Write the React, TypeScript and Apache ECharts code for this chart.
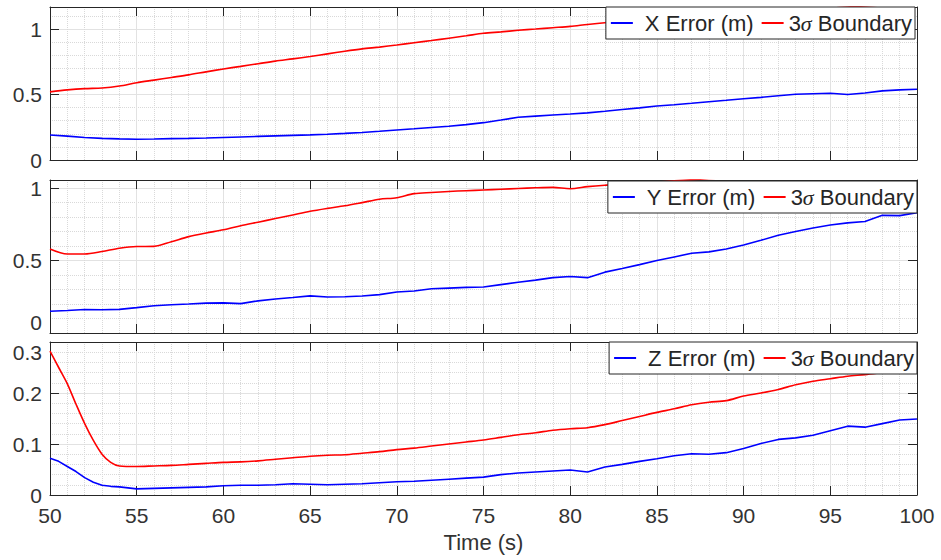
import React, { useEffect, useRef } from 'react';
import * as echarts from 'echarts';

// Time stamps (s) for X and Y panels
const time = [
  50, 51, 52, 53, 54, 55, 56, 57, 58, 59,
  60, 61, 62, 63, 64, 65, 66, 67, 68, 69,
  70, 71, 72, 73, 74, 75, 76, 77, 78, 79,
  80, 81, 82, 83, 84, 85, 86, 87, 88, 89,
  90, 91, 92, 93, 94, 95, 96, 97, 98, 99,
  100,
];
// Time stamps (s) for Z panel (finer at the start)
const timeZ = [
  50, 50.5, 51, 51.5, 52, 52.5, 53, 53.5, 54,
  55, 56, 57, 58, 59,
  60, 61, 62, 63, 64, 65, 66, 67, 68, 69,
  70, 71, 72, 73, 74, 75, 76, 77, 78, 79,
  80, 81, 82, 83, 84, 85, 86, 87, 88, 89,
  90, 91, 92, 93, 94, 95, 96, 97, 98, 99,
  100,
];

const xError = [
  0.191, 0.182, 0.172, 0.165, 0.161, 0.158, 0.16, 0.163, 0.165, 0.168,
  0.172, 0.176, 0.18, 0.184, 0.188, 0.192, 0.197, 0.203, 0.21, 0.219,
  0.229, 0.238, 0.248, 0.258, 0.27, 0.285, 0.305, 0.326, 0.335, 0.344,
  0.351, 0.36, 0.372, 0.385, 0.398, 0.412, 0.422, 0.433, 0.445, 0.456,
  0.468, 0.478, 0.49, 0.502, 0.506, 0.509, 0.5, 0.512, 0.528, 0.535,
  0.54,
];
const xSigma = [
  0.52, 0.535, 0.545, 0.55, 0.565, 0.59, 0.61, 0.63, 0.65, 0.673,
  0.695, 0.715, 0.735, 0.755, 0.772, 0.79, 0.81, 0.83, 0.848, 0.862,
  0.878, 0.895, 0.912, 0.93, 0.948, 0.967, 0.978, 0.99, 1.0, 1.01,
  1.02, 1.035, 1.048, 1.058, 1.066, 1.074, 1.083, 1.092, 1.1, 1.108,
  1.116, 1.124, 1.132, 1.14, 1.148, 1.158, 1.168, 1.176, 1.184, 1.19,
  1.196,
];
const yError = [
  0.15, 0.155, 0.162, 0.16, 0.163, 0.175, 0.188, 0.195, 0.2, 0.206,
  0.208, 0.203, 0.222, 0.235, 0.245, 0.256, 0.248, 0.25, 0.255, 0.265,
  0.283, 0.29, 0.305, 0.31, 0.315, 0.318, 0.334, 0.35, 0.365, 0.382,
  0.39, 0.382, 0.42, 0.445, 0.472, 0.5, 0.525, 0.55, 0.56, 0.58,
  0.608, 0.64, 0.675, 0.7, 0.725, 0.745, 0.76, 0.77, 0.812, 0.81,
  0.83,
];
const ySigma = [
  0.58, 0.545, 0.545, 0.562, 0.585, 0.597, 0.598, 0.63, 0.665, 0.69,
  0.712, 0.74, 0.765, 0.79, 0.815, 0.84, 0.86, 0.878, 0.9, 0.923,
  0.934, 0.962, 0.97, 0.977, 0.982, 0.987, 0.992, 0.997, 1.002, 1.005,
  0.996, 1.01, 1.02, 1.027, 1.035, 1.042, 1.05, 1.058, 1.066, 1.072,
  1.078, 1.084, 1.09, 1.095, 1.1, 1.105, 1.11, 1.115, 1.12, 1.124,
  1.128,
];
const zError = [
  0.072, 0.066, 0.056, 0.046, 0.034, 0.025, 0.019, 0.017, 0.016,
  0.012, 0.013, 0.014, 0.015, 0.016,
  0.018, 0.019, 0.019, 0.02, 0.022, 0.021, 0.02, 0.021, 0.022, 0.024,
  0.026, 0.027, 0.029, 0.031, 0.033, 0.035, 0.04, 0.043, 0.045, 0.047,
  0.049, 0.045, 0.055, 0.06, 0.066, 0.071, 0.077, 0.081, 0.08, 0.083,
  0.091, 0.101, 0.109, 0.112, 0.117, 0.126, 0.135, 0.133, 0.14, 0.147,
  0.149,
];
const zSigma = [
  0.282, 0.25, 0.218, 0.178, 0.14, 0.107, 0.08, 0.064, 0.057,
  0.056, 0.057, 0.058, 0.06, 0.062,
  0.064, 0.065, 0.067, 0.07, 0.073, 0.076, 0.078, 0.079, 0.082, 0.085,
  0.089, 0.092, 0.096, 0.1, 0.104, 0.108, 0.113, 0.118, 0.122, 0.127,
  0.13, 0.132, 0.138, 0.146, 0.154, 0.162, 0.169, 0.177, 0.182, 0.185,
  0.194, 0.2, 0.207, 0.216, 0.223, 0.228, 0.233, 0.236, 0.24, 0.244,
  0.246,
];

const errorNames = ['X Error (m)', 'Y Error (m)', 'Z Error (m)'];
const sigmaName = '3σ Boundary';
const xTitle = 'Time (s)';
const yMax = [1.168, 1.056, 0.3];
const yInterval = [0.5, 0.5, 0.1];

const AX = '#262626';
const TXT = '#333333';
const FONT = '"Liberation Sans", Arial, Helvetica, sans-serif';

function pairs(t: number[], v: number[]) {
  return v.map((y, i) => [t[i], y]);
}

export default function App() {
  const ref = useRef<HTMLDivElement>(null);
  useEffect(() => {
    if (!ref.current) return;
    const chart = echarts.init(ref.current, undefined, { renderer: 'svg' });

    const gridTops = [7, 180, 342];
    const gridH = 153;
    const legendTops = [7, 181, 342];
    const legendRights = [26, 24, 24];
    const errs = [xError, yError, zError];
    const sigs = [xSigma, ySigma, zSigma];
    const times = [time, time, timeZ];

    const axisLine = { show: true, onZero: false, lineStyle: { color: AX, width: 1 } };
    const axisTick = { show: true, inside: true, length: 9, lineStyle: { color: AX, width: 1 } };
    const splitLine = { show: true, lineStyle: { color: '#e2e2e2', width: 1 } };
    const minorSplitLine = { show: true, lineStyle: { color: '#d9d9d9', width: 1, type: 'dotted' } };

    const grid: any[] = [];
    const xAxis: any[] = [];
    const yAxis: any[] = [];
    const series: any[] = [];
    const legend: any[] = [];

    for (let i = 0; i < 3; i++) {
      grid.push({ left: 50, right: 24, top: gridTops[i], height: gridH, containLabel: false });
      xAxis.push({
        type: 'value', gridIndex: i, min: 50, max: 100, interval: 5, position: 'bottom',
        axisLine, axisTick,
        axisLabel: { show: i === 2, fontSize: 21, color: TXT, margin: 10, fontFamily: FONT },
        splitLine, minorTick: { show: false, splitNumber: 5 }, minorSplitLine,
        name: i === 2 ? xTitle : '', nameLocation: 'middle', nameGap: 36,
        nameTextStyle: { fontSize: 22, color: TXT, fontFamily: FONT },
      });
      yAxis.push({
        type: 'value', gridIndex: i, min: 0, max: yMax[i], interval: yInterval[i], position: 'left',
        axisLine, axisTick,
        axisLabel: {
          show: true, fontSize: 21, color: TXT, margin: 8, fontFamily: FONT,
          showMaxLabel: i === 2, showMinLabel: true,
          verticalAlignMaxLabel: i === 2 ? 'top' : undefined,
          verticalAlignMinLabel: i === 1 ? 'bottom' : undefined,
        },
        splitLine, minorTick: { show: false, splitNumber: 5 }, minorSplitLine,
      });
    }
    for (let i = 0; i < 3; i++) {
      xAxis.push({
        type: 'value', gridIndex: i, min: 50, max: 100, interval: 5, position: 'top',
        axisLine, axisTick, axisLabel: { show: false }, splitLine: { show: false },
      });
      yAxis.push({
        type: 'value', gridIndex: i, min: 0, max: yMax[i], interval: yInterval[i], position: 'right',
        axisLine, axisTick, axisLabel: { show: false }, splitLine: { show: false },
      });
    }
    for (let i = 0; i < 3; i++) {
      series.push({
        type: 'line', name: errorNames[i], xAxisIndex: i, yAxisIndex: i,
        data: pairs(times[i], errs[i]), showSymbol: false, symbol: 'none',
        lineStyle: { color: '#0000ff', width: 1.6 }, itemStyle: { color: '#0000ff' },
        clip: true, z: 3,
      });
      series.push({
        type: 'line', name: sigmaName, xAxisIndex: i, yAxisIndex: i,
        data: pairs(times[i], sigs[i]), showSymbol: false, symbol: 'none', smooth: 0.3,
        lineStyle: { color: '#ff0000', width: 1.6 }, itemStyle: { color: '#ff0000' },
        clip: true, z: 3,
      });
      legend.push({
        data: [errorNames[i], sigmaName],
        top: legendTops[i], right: legendRights[i],
        orient: 'horizontal', icon: 'rect', itemWidth: 22, itemHeight: 2, itemGap: 8,
        backgroundColor: '#ffffff', borderColor: AX, borderWidth: 1, borderRadius: 0,
        padding: [5, 3, 5, 5],
        selectedMode: false, z: 10,
        formatter: (name: string) => (name === sigmaName ? '{t|3}{s|σ}{t| Boundary}' : '{e|' + name + '}'),
        textStyle: {
          fontSize: 22, color: AX, fontFamily: FONT, lineHeight: 22,
          rich: {
            e: { fontSize: 22, color: AX, fontFamily: FONT, lineHeight: 22, padding: [0, 0, 0, 7] },
            t: { fontSize: 22, color: AX, fontFamily: FONT, lineHeight: 22 },
            s: { fontSize: 22, fontStyle: 'italic', fontFamily: '"Liberation Serif", serif', color: AX, lineHeight: 22 },
          },
        },
      });
    }

    chart.setOption({
      animation: false,
      backgroundColor: '#ffffff',
      textStyle: { fontFamily: FONT },
      grid, xAxis, yAxis, series, legend,
    });
    return () => chart.dispose();
  }, []);

  return (
    <div
      ref={ref}
      style={{ position: 'absolute', left: 0, top: 0, width: 941, height: 560, background: '#fff' }}
    />
  );
}
